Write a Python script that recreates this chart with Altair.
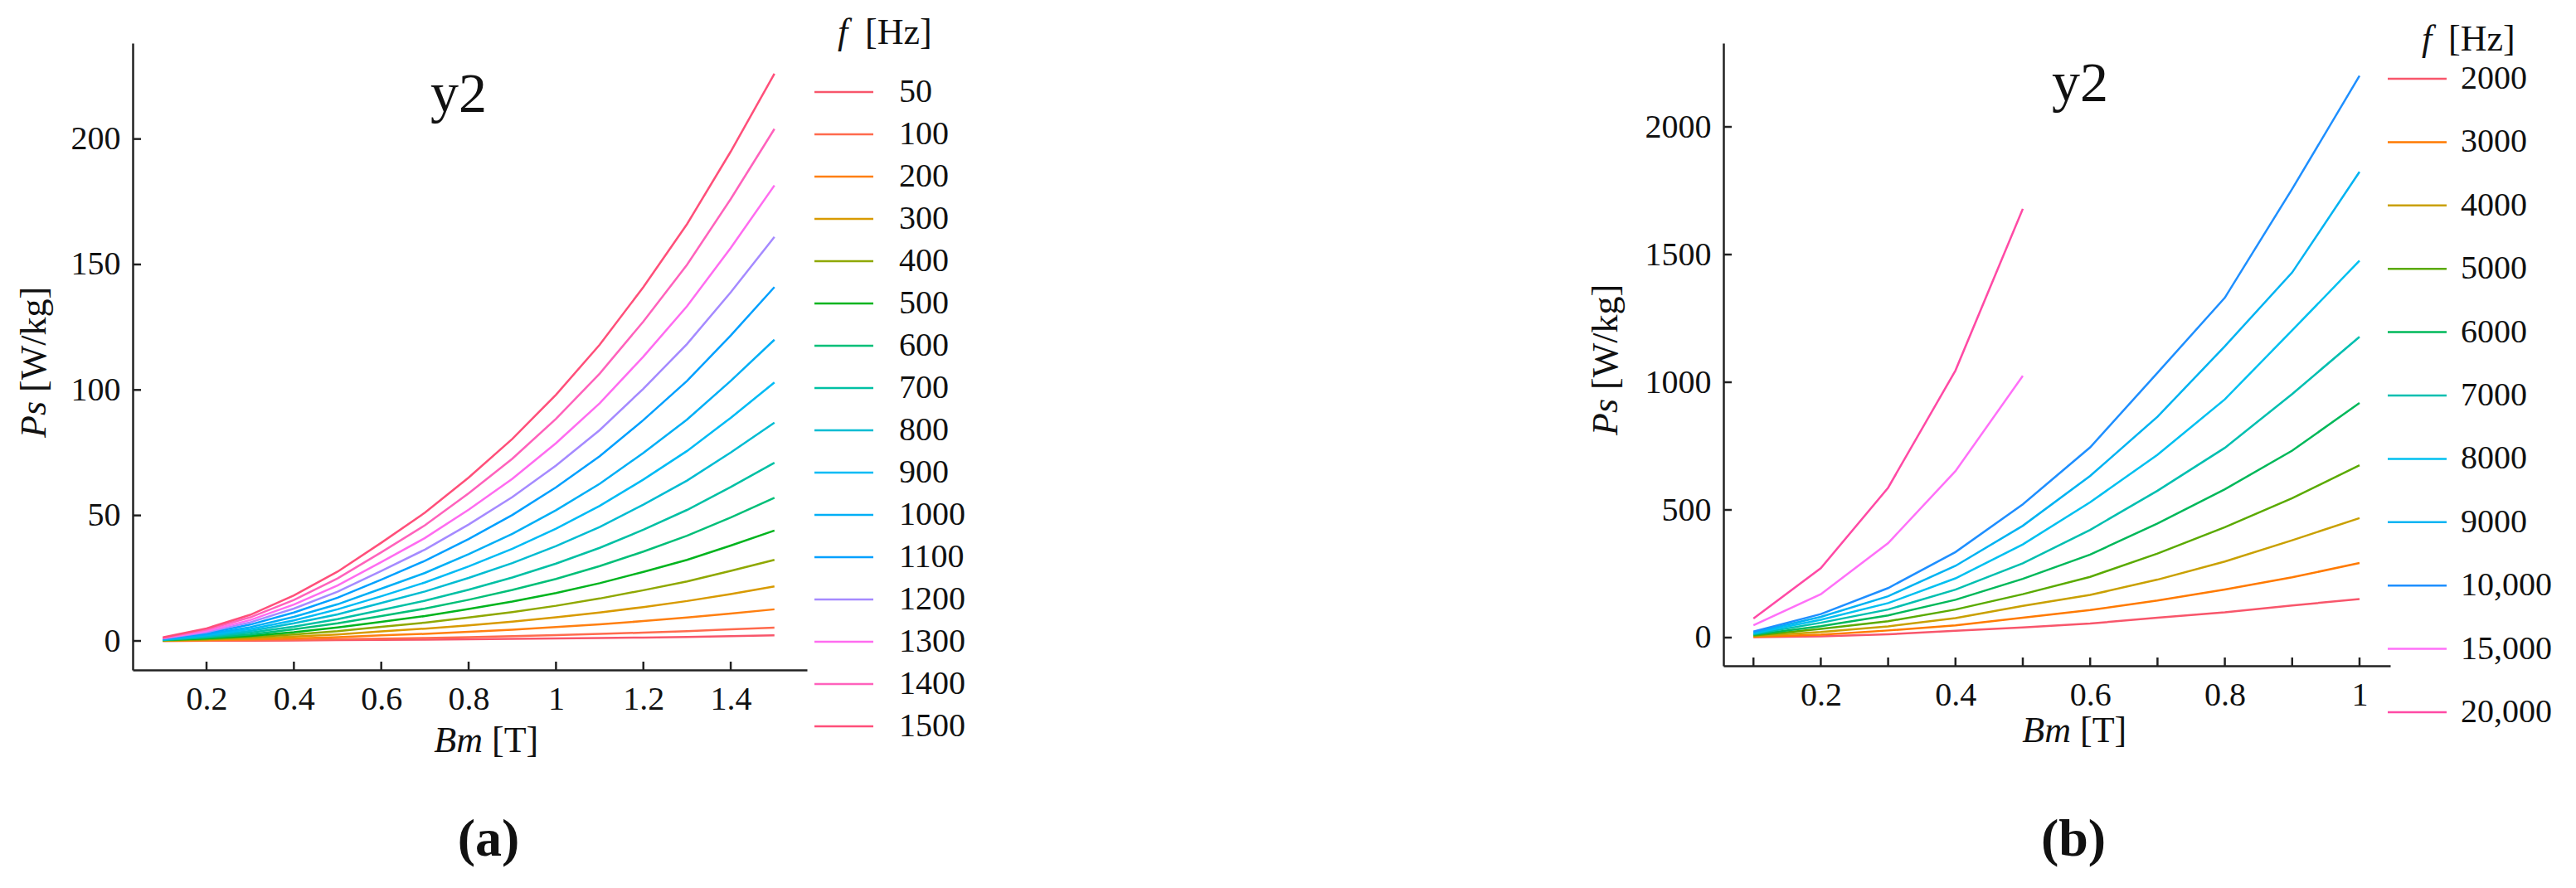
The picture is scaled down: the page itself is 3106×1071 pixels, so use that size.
import altair as alt
import pandas as pd

FONT = "'Liberation Serif', 'Times New Roman', 'DejaVu Serif', serif"
AX = "#222222"

# ---------------- panel (a) ----------------
bm_a = [0.1, 0.2, 0.3, 0.4, 0.5, 0.6, 0.7, 0.8, 0.9, 1.0, 1.1, 1.2, 1.3, 1.4, 1.5]
freq_a = ["50", "100", "200", "300", "400", "500", "600", "700", "800", "900",
          "1000", "1100", "1200", "1300", "1400", "1500"]
colors_a = ["#F8566B", "#FF6A4D", "#FF7F10", "#D89A00", "#8FA800", "#00B41E",
            "#00BF78", "#00C0A4", "#00BCD2", "#00BBF5", "#00AFF6", "#00A0FF",
            "#A58AFF", "#FF6CF0", "#FF62BC", "#FF4F7A"]
ps_50 = [0.02, 0.06, 0.12, 0.2, 0.3, 0.4, 0.52, 0.66, 0.8, 0.97, 1.15, 1.36, 1.6, 1.88, 2.2]
ps_100 = [0.03, 0.12, 0.24, 0.42, 0.65, 0.92, 1.2, 1.5, 1.9, 2.3, 2.8, 3.3, 3.9, 4.6, 5.3]
ps_200 = [0.08, 0.28, 0.58, 1.0, 1.5, 2.2, 2.8, 3.6, 4.5, 5.5, 6.6, 7.9, 9.3, 10.9, 12.6]
ps_300 = [0.1, 0.5, 1.0, 1.7, 2.6, 3.8, 4.9, 6.2, 7.7, 9.4, 11.3, 13.5, 15.9, 18.7, 21.7]
ps_400 = [0.2, 0.7, 1.5, 2.6, 3.9, 5.6, 7.3, 9.3, 11.5, 14.0, 16.9, 20.2, 23.7, 27.9, 32.3]
ps_500 = [0.3, 1.0, 2.0, 3.5, 5.4, 7.6, 9.9, 12.7, 15.7, 19.1, 23.0, 27.5, 32.3, 38.0, 44.0]
ps_600 = [0.3, 1.3, 2.6, 4.6, 7.0, 9.9, 12.9, 16.4, 20.3, 24.7, 29.8, 35.6, 41.9, 49.2, 57.0]
ps_700 = [0.4, 1.6, 3.3, 5.7, 8.7, 12.3, 16.0, 20.4, 25.3, 30.8, 37.1, 44.3, 52.2, 61.3, 71.0]
ps_800 = [0.5, 1.9, 4.0, 7.0, 10.6, 15.1, 19.7, 25.1, 31.0, 37.8, 45.4, 54.3, 63.9, 75.1, 87.0]
ps_900 = [0.6, 2.3, 4.7, 8.2, 12.6, 17.8, 23.3, 29.7, 36.7, 44.7, 53.8, 64.3, 75.7, 88.9, 103.0]
ps_1000 = [0.7, 2.6, 5.5, 9.6, 14.6, 20.8, 27.1, 34.6, 42.7, 52.1, 62.6, 74.9, 88.2, 103.6, 120.0]
ps_1100 = [0.8, 3.1, 6.5, 11.3, 17.2, 24.4, 31.9, 40.6, 50.2, 61.2, 73.6, 88.0, 103.6, 121.7, 141.0]
ps_1200 = [1.0, 3.5, 7.4, 12.9, 19.6, 27.9, 36.4, 46.4, 57.3, 69.9, 84.0, 100.5, 118.3, 138.9, 161.0]
ps_1300 = [1.1, 4.0, 8.3, 14.5, 22.1, 31.4, 41.0, 52.3, 64.6, 78.8, 94.7, 113.3, 133.4, 156.6, 181.5]
ps_1400 = [1.2, 4.5, 9.4, 16.3, 24.9, 35.3, 46.1, 58.8, 72.6, 88.5, 106.5, 127.3, 149.9, 176.1, 204.0]
ps_1500 = [1.4, 5.0, 10.4, 18.1, 27.6, 39.1, 51.1, 65.1, 80.5, 98.1, 118.0, 141.0, 166.1, 195.0, 226.0]
series_a = [ps_50, ps_100, ps_200, ps_300, ps_400, ps_500, ps_600, ps_700, ps_800,
            ps_900, ps_1000, ps_1100, ps_1200, ps_1300, ps_1400, ps_1500]
xlabels_a = [0.2, 0.4, 0.6, 0.8, 1.0, 1.2, 1.4]
xticks_a = [0.2, 0.4, 0.6, 0.8, 1.0, 1.2, 1.4]
yticks_a = [0, 50, 100, 150, 200]

# ---------------- panel (b) ----------------
bm_b = [0.1, 0.2, 0.3, 0.4, 0.5, 0.6, 0.7, 0.8, 0.9, 1.0]
freq_b = ["2000", "3000", "4000", "5000", "6000", "7000", "8000", "9000",
          "10,000", "15,000", "20,000"]
colors_b = ["#F8566B", "#FF7A00", "#C9A000", "#5AAA00", "#00B85A", "#00BFB0",
            "#00C0F0", "#00B3F2", "#1E8FFF", "#FF70F8", "#FF4AA5"]
ps_2000 = [1.5, 4.5, 13, 27, 40, 55, 78, 99, 126, 151]
ps_3000 = [3.5, 11, 28, 48, 78, 108, 145, 188, 236, 292]
ps_4000 = [6, 22, 44, 76, 124, 167, 227, 298, 381, 468]
ps_5000 = [8, 34, 64, 110, 170, 238, 329, 432, 546, 675]
ps_6000 = [11, 45, 87, 148, 230, 325, 447, 581, 732, 919]
ps_7000 = [14, 58, 110, 188, 291, 422, 575, 743, 954, 1178]
ps_8000 = [17, 70, 135, 232, 365, 530, 716, 933, 1203, 1476]
ps_9000 = [20, 81, 162, 281, 438, 633, 865, 1141, 1430, 1824]
ps_10000 = [24, 92, 194, 335, 522, 745, 1037, 1331, 1757, 2200]
ps_15000 = [48, 170, 370, 652, 1025]
ps_20000 = [75, 272, 587, 1046, 1679]
series_b = [ps_2000, ps_3000, ps_4000, ps_5000, ps_6000, ps_7000, ps_8000,
            ps_9000, ps_10000, ps_15000, ps_20000]
xlabels_b = [0.2, 0.4, 0.6, 0.8, 1.0]
xticks_b = [0.1, 0.2, 0.3, 0.4, 0.5, 0.6, 0.7, 0.8, 0.9, 1.0]
yticks_b = [0, 500, 1000, 1500, 2000]


def long_df(bm, freqs, series):
    rows = []
    for f, vals in zip(freqs, series):
        for b, v in zip(bm, vals):
            rows.append({"Bm": b, "Ps": v, "f": f})
    return pd.DataFrame(rows)


def text(t, x, y, size, align="center", style="normal", weight="normal", angle=0):
    kw = dict(text=t, font=FONT, fontSize=size, align=align, baseline="alphabetic",
              color="#111111", fontStyle=style, fontWeight=weight)
    if angle:
        kw["angle"] = angle
    return alt.Chart(pd.DataFrame({"k": [0]})).mark_text(**kw).encode(
        x=alt.value(x), y=alt.value(y))


def panel(df, freqs, colors, xdom, ydom, w, h, xlabels, xticks, yticks, leg, t):
    xs = alt.Scale(domain=xdom, nice=False, zero=False)
    ys = alt.Scale(domain=ydom, nice=False, zero=False)
    lines = alt.Chart(df).mark_line(strokeWidth=2.5).encode(
        x=alt.X("Bm:Q", scale=xs, title=None,
                axis=alt.Axis(values=xlabels, format="~g", ticks=False, tickSize=0,
                              labelPadding=15, grid=False, labelFlush=False)),
        y=alt.Y("Ps:Q", scale=ys, title=None,
                axis=alt.Axis(values=yticks, format="d", ticks=False, tickSize=0,
                              labelPadding=15, grid=False, labelFlush=False)),
        color=alt.Color("f:N", sort=freqs, scale=alt.Scale(domain=freqs, range=colors),
                        legend=alt.Legend(
                            orient="none", legendX=leg["x"], legendY=leg["y"], title=None,
                            symbolType="M-3,0H3", symbolSize=560, symbolStrokeWidth=2.5,
                            labelFont=FONT, labelFontSize=40, labelColor="#111111",
                            labelOffset=leg["lo"], rowPadding=leg["rp"], padding=0,
                            labelLimit=0)),
    )
    xt = alt.Chart(pd.DataFrame({"v": xticks})).mark_rule(strokeWidth=2.5, color=AX).encode(
        x=alt.X("v:Q", title=None), y=alt.value(h), y2=alt.value(h - 10))
    yt = alt.Chart(pd.DataFrame({"v": yticks})).mark_rule(strokeWidth=2.5, color=AX).encode(
        y=alt.Y("v:Q", title=None), x=alt.value(0), x2=alt.value(10))
    texts = [
        text("y2", t["y2"][0], t["y2"][1], 68),
        text("Ps", t["ps"][0], t["ps"][1], 44, align="right", style="italic", angle=270),
        text("[W/kg]", t["ps"][0], t["ps"][1] - 11, 44, align="left", angle=270),
        text("Bm", t["bm"][0], t["bm"][1], 44, align="right", style="italic"),
        text("[T]", t["bm"][0] + 11, t["bm"][1], 44, align="left"),
        text(t["lab"], t["lb"][0], t["lb"][1], 64, weight="bold"),
        text("f", t["ft"][0], t["ft"][1], 44, align="left", style="italic"),
        text("[Hz]", t["ft"][2], t["ft"][1], 44, align="left"),
    ]
    return alt.layer(lines, xt, yt, *texts).properties(width=w, height=h)


df_a = long_df(bm_a, freq_a, series_a)
df_b = long_df(bm_b, freq_b, series_b)

left = panel(
    df_a, freq_a, colors_a, [0.031, 1.5745], [-11.56, 238.2], 813, 756,
    xlabels_a, xticks_a, yticks_a,
    {"x": 837.5, "y": 39, "lo": 46.5, "rp": 11},
    {"y2": (393, 83), "ps": (-105, 432), "bm": (422, 855), "lab": "(a)", "lb": (429, 980),
     "ft": (850, 1, 883)},
)
right = panel(
    df_b, freq_b, colors_b, [0.0554, 1.0456], [-110.4, 2328], 804, 751,
    xlabels_b, xticks_b, yticks_b,
    {"x": 816.5, "y": 23, "lo": 32.5, "rp": 36.4},
    {"y2": (430, 70), "ps": (-128, 429), "bm": (419, 843), "lab": "(b)", "lb": (422, 980),
     "ft": (842, 9, 874)},
)

chart = alt.hconcat(left, right, spacing=1105, bounds="flush").resolve_scale(
    color="independent", x="independent", y="independent"
).properties(
    padding={"left": 12, "top": 10, "right": 5, "bottom": 5}
).configure_view(stroke=None).configure_axis(
    domainColor=AX, domainWidth=2.5, labelFont=FONT, labelFontSize=40,
    labelColor="#111111", grid=False
)

chart.save("out.html", embed_options={"renderer": "svg", "actions": False})
